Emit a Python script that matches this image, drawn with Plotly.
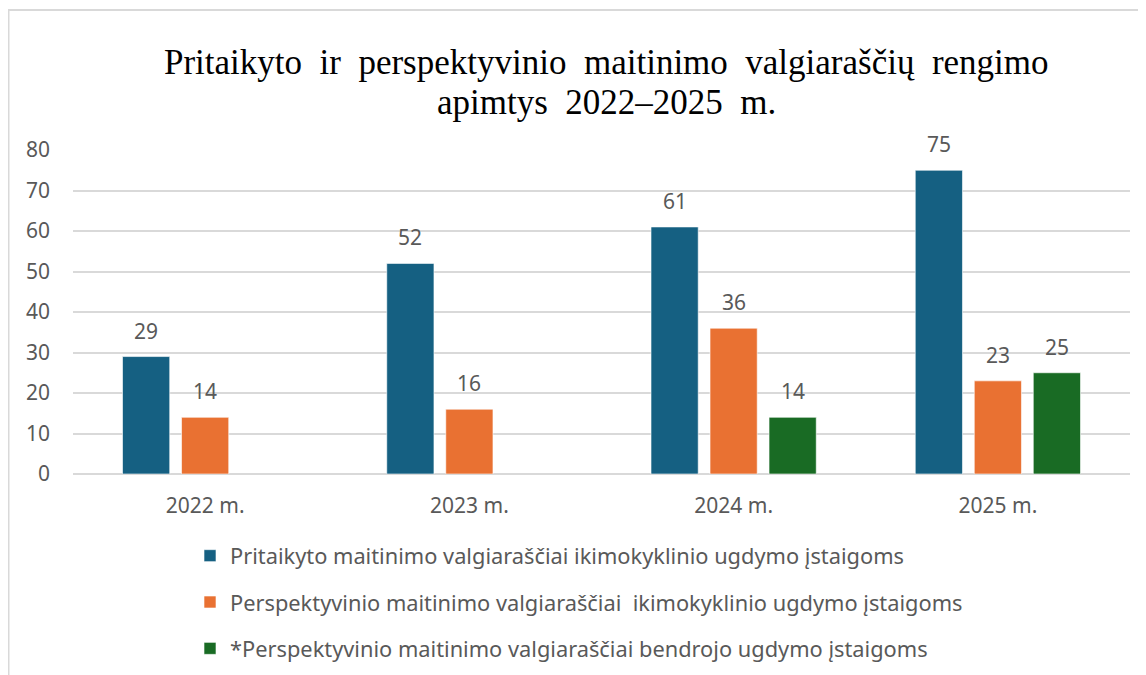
import plotly.graph_objects as go

categories = ["2022 m.", "2023 m.", "2024 m.", "2025 m."]
series_names = [
    "Pritaikyto maitinimo valgiaraščiai ikimokyklinio ugdymo įstaigoms",
    "Perspektyvinio maitinimo valgiaraščiai  ikimokyklinio ugdymo įstaigoms",
    "*Perspektyvinio maitinimo valgiaraščiai bendrojo ugdymo įstaigoms",
]
pritaikyto = [29, 52, 61, 75]
perspektyvinio_ikimok = [14, 16, 36, 23]
perspektyvinio_bendr = [None, None, 14, 25]
series_values = [pritaikyto, perspektyvinio_ikimok, perspektyvinio_bendr]
colors = ["#156082", "#E97132", "#196B24"]
y_ticks = [0, 10, 20, 30, 40, 50, 60, 70, 80]
title_lines = [
    "Pritaikyto  ir  perspektyvinio  maitinimo  valgiaraščių  rengimo",
    "apimtys  2022–2025  m.",
]

# the page body adds an 8px margin, so the figure is laid out 8px smaller
W, H = 1138, 667
L, R, T, B = 65, 16, 142, 201
BARGAP, BARGROUPGAP = 0.33, 0.2
FONT = "Noto Sans"
GREY = "#595959"
plot_w = W - L - R
plot_h = H - T - B

fig = go.Figure()
for i, (name, vals, col) in enumerate(zip(series_names, series_values, colors)):
    fig.add_trace(go.Bar(
        x=categories, y=vals, name=name,
        marker=dict(color=col, line=dict(color="rgba(255,255,255,0.6)", width=1)),
        legendgroup=f"g{i}",
        hoverinfo="y",
    ))

# data labels above bars
slot = plot_w / len(categories) * (1 - BARGAP) / len(series_values)
for i, vals in enumerate(series_values):
    for c, v in zip(categories, vals):
        if v is None:
            continue
        fig.add_annotation(
            x=c, y=v, text=str(v), showarrow=False,
            xshift=(i - 1) * slot, yshift=26, yanchor="middle",
            font=dict(family=FONT, size=21, color=GREY),
        )

# title (two lines, set individually for tighter leading)
for line, ypx in zip(title_lines, [54.5, 94]):
    fig.add_annotation(
        text=line, showarrow=False,
        xref="paper", yref="paper",
        x=(598 - L) / plot_w, xanchor="center",
        y=(H - B - ypx) / plot_h, yanchor="middle",
        font=dict(family="Liberation Serif", size=35, color="black"),
    )

fig.update_layout(
    width=W, height=H,
    margin=dict(l=L, r=R, t=T, b=B, autoexpand=False),
    paper_bgcolor="white", plot_bgcolor="white",
    barmode="group", bargap=BARGAP, bargroupgap=BARGROUPGAP,
    xaxis=dict(
        tickfont=dict(family=FONT, size=21, color=GREY),
        showgrid=False, showline=False, ticks="", ticklabelstandoff=17,
    ),
    yaxis=dict(
        range=[0, 80], tickvals=y_ticks,
        tickfont=dict(family=FONT, size=21, color=GREY),
        showgrid=True, gridcolor="#D9D9D9", gridwidth=1.5,
        zeroline=True, zerolinecolor="#D9D9D9", zerolinewidth=1.5,
        showline=False, ticks="", ticklabelstandoff=22,
    ),
    legend=dict(
        orientation="v", x=(182 - L) / plot_w, xanchor="left",
        y=(H - B - 527) / plot_h, yanchor="top",
        font=dict(family=FONT, size=21.8, color=GREY),
        tracegroupgap=15, itemwidth=30, bgcolor="rgba(0,0,0,0)",
    ),
    showlegend=True,
)

# outer chart frame (top and left edges visible)
fig.add_shape(
    type="rect", xref="paper", yref="paper", layer="below",
    x0=(0.5 - L) / plot_w, x1=(W + 20 - L) / plot_w,
    y0=(H - B - (H + 20)) / plot_h, y1=(H - B - 2) / plot_h,
    line=dict(color="#D9D9D9", width=2), fillcolor="rgba(0,0,0,0)",
)

fig.write_html("out.html")
